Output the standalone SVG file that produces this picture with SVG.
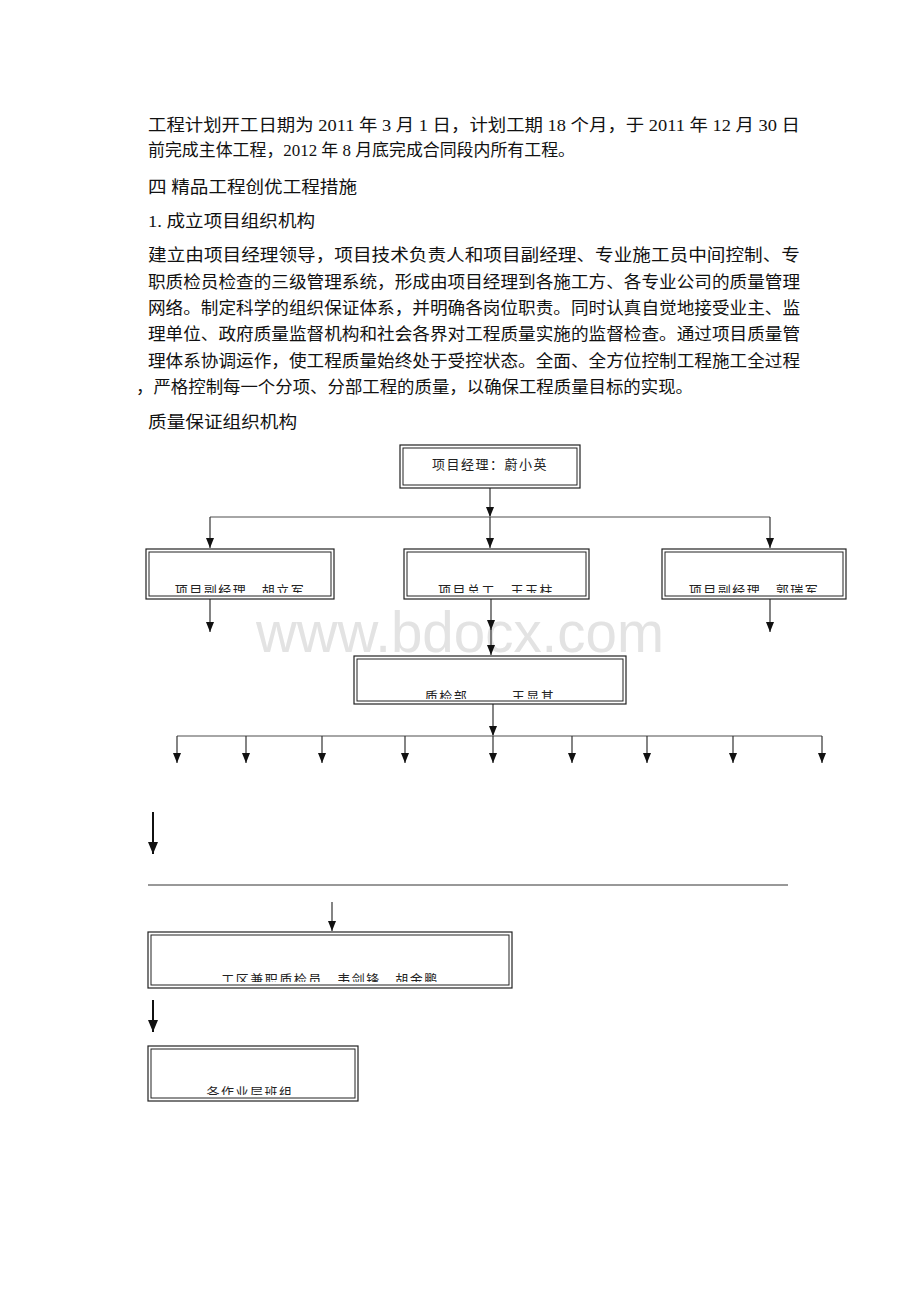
<svg xmlns="http://www.w3.org/2000/svg" width="920" height="1302" viewBox="0 0 920 1302">
<style>
.body{font-family:"Liberation Serif","Noto Sans CJK SC",serif;font-size:16.5px;fill:#111}
.bx{font-family:"Liberation Serif","Noto Sans CJK SC",serif;font-size:13px;fill:#222;letter-spacing:1.5px}
.o{fill:#fff;stroke:#222;stroke-width:1.2}
.i{fill:none;stroke:#222;stroke-width:1}
.c{stroke:#333;stroke-width:1.2;fill:none}
.h{stroke:#888;stroke-width:1.6;fill:none}
.wm{font-family:"Liberation Sans",Arial,sans-serif;font-size:58px;fill:#e3e3e3}
</style>
<defs>
<marker id="a" viewBox="0 0 10 8" refX="10" refY="4" markerWidth="10" markerHeight="8" markerUnits="userSpaceOnUse" orient="auto">
<path d="M0,0 L10,4 L0,8 Z" fill="#111"/>
</marker>
<marker id="ab" viewBox="0 0 12 10" refX="12" refY="5" markerWidth="12" markerHeight="11" markerUnits="userSpaceOnUse" orient="auto">
<path d="M0,0 L12,5 L0,10 Z" fill="#111"/>
</marker>
<clipPath id="k1"><rect x="146" y="549" width="188" height="44"/></clipPath>
<clipPath id="k2"><rect x="404" y="549" width="185" height="44"/></clipPath>
<clipPath id="k3"><rect x="662" y="549" width="184" height="44"/></clipPath>
<clipPath id="k4"><rect x="354" y="656" width="272" height="43"/></clipPath>
<clipPath id="k5"><rect x="148" y="932" width="364" height="50"/></clipPath>
<clipPath id="k6"><rect x="148" y="1046" width="210" height="49"/></clipPath>
</defs>

<g id="bodytext">
<text class="body" x="148" y="131" textLength="652" lengthAdjust="spacingAndGlyphs">工程计划开工日期为 2011 年 3 月 1 日，计划工期 18 个月，于 2011 年 12 月 30 日</text>
<text class="body" x="148" y="156" textLength="427" lengthAdjust="spacingAndGlyphs">前完成主体工程，2012 年 8 月底完成合同段内所有工程。</text>
<text class="body" x="148" y="193" textLength="209" lengthAdjust="spacingAndGlyphs">四 精品工程创优工程措施</text>
<text class="body" x="148" y="227" textLength="167" lengthAdjust="spacingAndGlyphs">1. 成立项目组织机构</text>
<text class="body" x="148" y="261" textLength="652" lengthAdjust="spacingAndGlyphs">建立由项目经理领导，项目技术负责人和项目副经理、专业施工员中间控制、专</text>
<text class="body" x="148" y="288" textLength="652" lengthAdjust="spacingAndGlyphs">职质检员检查的三级管理系统，形成由项目经理到各施工方、各专业公司的质量管理</text>
<text class="body" x="148" y="314" textLength="652" lengthAdjust="spacingAndGlyphs">网络。制定科学的组织保证体系，并明确各岗位职责。同时认真自觉地接受业主、监</text>
<text class="body" x="148" y="340" textLength="652" lengthAdjust="spacingAndGlyphs">理单位、政府质量监督机构和社会各界对工程质量实施的监督检查。通过项目质量管</text>
<text class="body" x="148" y="367" textLength="652" lengthAdjust="spacingAndGlyphs">理体系协调运作，使工程质量始终处于受控状态。全面、全方位控制工程施工全过程</text>
<text class="body" x="136" y="393" textLength="557" lengthAdjust="spacingAndGlyphs">，严格控制每一个分项、分部工程的质量，以确保工程质量目标的实现。</text>
<text class="body" x="148" y="428" textLength="149" lengthAdjust="spacingAndGlyphs">质量保证组织机构</text>
</g>

<text class="wm" x="460" y="652" text-anchor="middle" textLength="408" lengthAdjust="spacingAndGlyphs">www.bdocx.com</text>

<g id="connectors">
<line class="c" x1="490" y1="488" x2="490" y2="517" marker-end="url(#a)"/>
<line class="h" x1="210" y1="517" x2="770" y2="517"/>
<line class="c" x1="210" y1="517" x2="210" y2="548" marker-end="url(#a)"/>
<line class="c" x1="490" y1="517" x2="490" y2="548" marker-end="url(#a)"/>
<line class="c" x1="770" y1="517" x2="770" y2="548" marker-end="url(#a)"/>
<line class="c" x1="210" y1="599" x2="210" y2="632" marker-end="url(#a)"/>
<line class="c" x1="770" y1="599" x2="770" y2="632" marker-end="url(#a)"/>
<line class="c" x1="491" y1="599" x2="491" y2="630" marker-end="url(#a)"/>
<line class="c" x1="491" y1="628" x2="491" y2="655" marker-end="url(#a)"/>
<line class="c" x1="493" y1="704" x2="493" y2="736" marker-end="url(#a)"/>
<line class="h" x1="177" y1="736" x2="822" y2="736"/>
<line class="c" x1="177" y1="736" x2="177" y2="763" marker-end="url(#a)"/>
<line class="c" x1="246" y1="736" x2="246" y2="763" marker-end="url(#a)"/>
<line class="c" x1="322" y1="736" x2="322" y2="763" marker-end="url(#a)"/>
<line class="c" x1="405" y1="736" x2="405" y2="763" marker-end="url(#a)"/>
<line class="c" x1="493" y1="736" x2="493" y2="763" marker-end="url(#a)"/>
<line class="c" x1="572" y1="736" x2="572" y2="763" marker-end="url(#a)"/>
<line class="c" x1="647" y1="736" x2="647" y2="763" marker-end="url(#a)"/>
<line class="c" x1="733" y1="736" x2="733" y2="763" marker-end="url(#a)"/>
<line class="c" x1="822" y1="736" x2="822" y2="763" marker-end="url(#a)"/>
<line x1="153" y1="812" x2="153" y2="854" stroke="#111" stroke-width="2" marker-end="url(#ab)"/>
<line x1="148" y1="885" x2="788" y2="885" stroke="#333" stroke-width="1"/>
<line class="c" x1="332" y1="902" x2="332" y2="931" marker-end="url(#a)"/>
<line x1="153" y1="1000" x2="153" y2="1032" stroke="#111" stroke-width="2" marker-end="url(#ab)"/>
</g>

<g id="pm">
<rect class="o" x="400" y="445" width="180" height="43"/>
<rect class="i" x="403" y="448" width="174" height="37"/>
<text class="bx" x="490" y="469" text-anchor="middle" font-size="14" letter-spacing="0">项目经理：蔚小英</text>
</g>

<g id="vpm1">
<rect class="o" x="146" y="549" width="188" height="50"/>
<rect class="i" x="149" y="552" width="182" height="44"/>
<text class="bx" x="240" y="595" text-anchor="middle" clip-path="url(#k1)">项目副经理　胡立军</text>
</g>

<g id="chief">
<rect class="o" x="404" y="549" width="185" height="50"/>
<rect class="i" x="407" y="552" width="179" height="44"/>
<text class="bx" x="496" y="595" text-anchor="middle" clip-path="url(#k2)">项目总工　王玉柱</text>
</g>

<g id="vpm2">
<rect class="o" x="662" y="549" width="184" height="50"/>
<rect class="i" x="665" y="552" width="178" height="44"/>
<text class="bx" x="754" y="595" text-anchor="middle" clip-path="url(#k3)">项目副经理　郭瑞军</text>
</g>

<g id="qc">
<rect class="o" x="354" y="656" width="272" height="48"/>
<rect class="i" x="357" y="659" width="266" height="42"/>
<text class="bx" x="490" y="701" text-anchor="middle" clip-path="url(#k4)">质检部　　　王显其</text>
</g>

<g id="inspectors">
<rect class="o" x="148" y="932" width="364" height="56"/>
<rect class="i" x="151" y="935" width="358" height="50"/>
<text class="bx" x="330" y="984" text-anchor="middle" clip-path="url(#k5)">工区兼职质检员　韦剑锋　胡金鹏</text>
</g>

<g id="teams">
<rect class="o" x="148" y="1046" width="210" height="55"/>
<rect class="i" x="151" y="1049" width="204" height="49"/>
<text class="bx" x="250" y="1097" text-anchor="middle" clip-path="url(#k6)">各作业层班组</text>
</g>
</svg>
